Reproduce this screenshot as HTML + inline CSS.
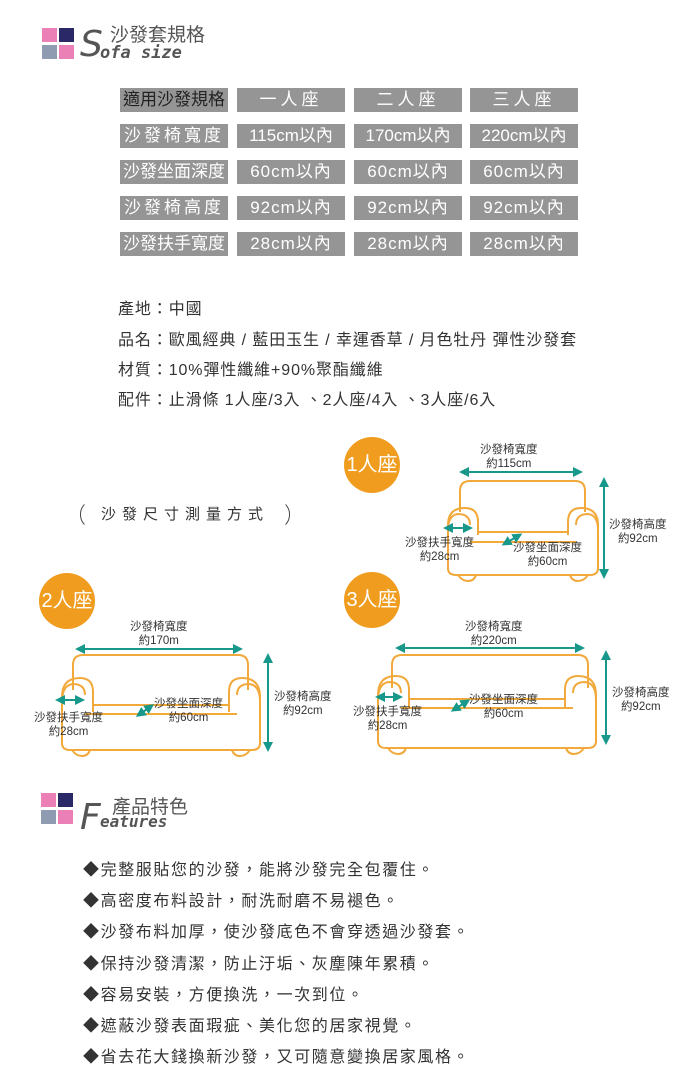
<!DOCTYPE html>
<html><head><meta charset="utf-8"><style>
body{margin:0;width:700px;height:1078px;background:#fff;position:relative;overflow:hidden;font-family:"Liberation Sans","Noto Sans CJK TC",sans-serif;color:#333}
.a{position:absolute;white-space:nowrap}
.sq{position:absolute;width:15px;height:14px}
.c{position:absolute;background:#959595;color:#fff;font-size:17px;text-align:center;line-height:24px;height:24px;letter-spacing:1px}
.h{color:#222;letter-spacing:0}
.t{font-size:16px;color:#333;letter-spacing:0.9px}
.f{font-size:16px;color:#333;letter-spacing:1.6px}
.circ{position:absolute;width:56px;height:56px;border-radius:50%;background:#f09c1e;color:#fff;font-size:20px;line-height:56px;text-align:center}
.lab{position:absolute;font-size:11.5px;color:#333;text-align:center;line-height:14px;white-space:nowrap}
</style></head><body>
<div class="sq" style="left:42px;top:28px;background:#ea80b5"></div>
<div class="sq" style="left:59px;top:28px;background:#2b2868"></div>
<div class="sq" style="left:42px;top:45px;background:#8e9bb0"></div>
<div class="sq" style="left:59px;top:45px;background:#ea80b5"></div>
<div class="a" style="left:80px;top:24px;font-size:36px;font-style:italic;color:#555;font-family:'DejaVu Sans',sans-serif">S</div>
<div class="a" style="left:110px;top:20px;font-size:19px;color:#555">沙發套規格</div>
<div class="a" style="left:100px;top:43px;font-size:17px;font-style:italic;font-weight:bold;color:#555;font-family:'DejaVu Sans Mono',monospace">ofa size</div>

<div class="c h" style="left:120px;top:88px;width:108px">適用沙發規格</div>
<div class="c" style="left:237px;top:88px;width:108px;letter-spacing:4px">一人座</div>
<div class="c" style="left:354px;top:88px;width:108px;letter-spacing:4px">二人座</div>
<div class="c" style="left:470px;top:88px;width:108px;letter-spacing:4px">三人座</div>

<div class="c" style="left:120px;top:124px;width:108px;letter-spacing:3px">沙發椅寬度</div>
<div class="c" style="left:237px;top:124px;width:108px;letter-spacing:0">115cm以內</div>
<div class="c" style="left:354px;top:124px;width:108px;letter-spacing:0">170cm以內</div>
<div class="c" style="left:470px;top:124px;width:108px;letter-spacing:0">220cm以內</div>

<div class="c" style="left:120px;top:160px;width:108px;letter-spacing:0">沙發坐面深度</div>
<div class="c" style="left:237px;top:160px;width:108px">60cm以內</div>
<div class="c" style="left:354px;top:160px;width:108px">60cm以內</div>
<div class="c" style="left:470px;top:160px;width:108px">60cm以內</div>

<div class="c" style="left:120px;top:196px;width:108px;letter-spacing:3px">沙發椅高度</div>
<div class="c" style="left:237px;top:196px;width:108px">92cm以內</div>
<div class="c" style="left:354px;top:196px;width:108px">92cm以內</div>
<div class="c" style="left:470px;top:196px;width:108px">92cm以內</div>

<div class="c" style="left:120px;top:232px;width:108px;letter-spacing:0">沙發扶手寬度</div>
<div class="c" style="left:237px;top:232px;width:108px">28cm以內</div>
<div class="c" style="left:354px;top:232px;width:108px">28cm以內</div>
<div class="c" style="left:470px;top:232px;width:108px">28cm以內</div>

<div class="a t" style="left:118px;top:295px">產地：中國</div>
<div class="a t" style="left:118px;top:326px">品名：歐風經典 / 藍田玉生 / 幸運香草 / 月色牡丹 彈性沙發套</div>
<div class="a t" style="left:118px;top:356px">材質：10%彈性纖維+90%聚酯纖維</div>
<div class="a t" style="left:118px;top:386px">配件：止滑條 1人座/3入 、2人座/4入 、3人座/6入</div>

<div class="a" style="left:80px;top:500px;width:208px;height:27px;border:1.5px solid #444;border-radius:14px;border-top-color:transparent;border-bottom-color:transparent;font-size:15px;line-height:27px;text-align:center;letter-spacing:6px;color:#333">沙發尺寸測量方式</div>

<div class="circ" style="left:344px;top:437px">1人座</div>
<div class="circ" style="left:39px;top:573px">2人座</div>
<div class="circ" style="left:344px;top:572px">3人座</div>

<svg width="700" height="1078" style="position:absolute;left:0;top:0" fill="none">
<defs><marker id="m" viewBox="0 0 6 6" refX="3" refY="3" markerWidth="5" markerHeight="5" orient="auto-start-reverse"><path d="M0,0L6,3L0,6z" fill="#17988a"/></marker></defs>
<g stroke="#f2a93b" stroke-width="2">
<path d="M460,512V491Q460,481 470,481H575Q585,481 585,491V512"/>
<path d="M448,570V525Q448,508 465,508Q478,508 478,522V535"/>
<path d="M448,530Q448,515 458,514Q470,514 470,525"/>
<path d="M598,570V525Q598,508 581,508Q568,508 568,522V535"/>
<path d="M598,530Q598,515 588,514Q576,514 576,525"/>
<path d="M478,532H568M470,542H576"/>
<path d="M448,568Q448,575 456,575H590Q598,575 598,568"/>
<path d="M458,575Q462,581 468,581Q474,581 476,575M570,575Q572,581 578,581Q584,581 588,575"/>
<path d="M73,690V665Q73,655 83,655H238Q248,655 248,665V690"/>
<path d="M62,745V697Q62,678 80,678Q93,678 93,692V712"/>
<path d="M62,702Q62,685 73,684Q85,684 85,695"/>
<path d="M260,745V697Q260,678 242,678Q229,678 229,692V712"/>
<path d="M260,702Q260,685 249,684Q237,684 237,695"/>
<path d="M93,705H229M85,714H237"/>
<path d="M62,743Q62,750 70,750H252Q260,750 260,743"/>
<path d="M72,750Q76,756 82,756Q88,756 90,750M232,750Q234,756 240,756Q246,756 250,750"/>
<path d="M392,688V665Q392,655 402,655H578Q588,655 588,665V688"/>
<path d="M378,743V695Q378,676 396,676Q409,676 409,690V708"/>
<path d="M378,700Q378,683 389,682Q401,682 401,693"/>
<path d="M596,743V695Q596,676 578,676Q565,676 565,690V708"/>
<path d="M596,700Q596,683 585,682Q573,682 573,693"/>
<path d="M409,699H565M401,708H573"/>
<path d="M378,741Q378,748 386,748H588Q596,748 596,741"/>
<path d="M388,748Q392,754 398,754Q404,754 406,748M566,748Q568,754 574,754Q580,754 584,748"/>
</g>
<g stroke="#17988a" stroke-width="2" marker-start="url(#m)" marker-end="url(#m)">
<path d="M464,472H578"/><path d="M604,482V574"/><path d="M448,528H468"/><path d="M506,543L518,536"/>
<path d="M80,649H238"/><path d="M268,658V747"/><path d="M60,700H80"/><path d="M140,714L150,707"/>
<path d="M400,648H580"/><path d="M606,655V740"/><path d="M380,697H398"/><path d="M455,709L466,702"/>
</g>
</svg>

<div class="lab" style="left:480px;top:443px">沙發椅寬度<br>約115cm</div>
<div class="lab" style="left:609px;top:518px">沙發椅高度<br>約92cm</div>
<div class="lab" style="left:405px;top:536px">沙發扶手寬度<br>約28cm</div>
<div class="lab" style="left:513px;top:541px">沙發坐面深度<br>約60cm</div>

<div class="lab" style="left:130px;top:620px">沙發椅寬度<br>約170m</div>
<div class="lab" style="left:274px;top:690px">沙發椅高度<br>約92cm</div>
<div class="lab" style="left:34px;top:711px">沙發扶手寬度<br>約28cm</div>
<div class="lab" style="left:154px;top:697px">沙發坐面深度<br>約60cm</div>

<div class="lab" style="left:465px;top:620px">沙發椅寬度<br>約220cm</div>
<div class="lab" style="left:612px;top:686px">沙發椅高度<br>約92cm</div>
<div class="lab" style="left:353px;top:705px">沙發扶手寬度<br>約28cm</div>
<div class="lab" style="left:469px;top:693px">沙發坐面深度<br>約60cm</div>

<div class="sq" style="left:41px;top:793px;background:#ea80b5"></div>
<div class="sq" style="left:58px;top:793px;background:#2b2868"></div>
<div class="sq" style="left:41px;top:810px;background:#8e9bb0"></div>
<div class="sq" style="left:58px;top:810px;background:#ea80b5"></div>
<div class="a" style="left:80px;top:797px;font-size:36px;font-style:italic;color:#555;font-family:'DejaVu Sans',sans-serif">F</div>
<div class="a" style="left:112px;top:792px;font-size:19px;color:#555">產品特色</div>
<div class="a" style="left:100px;top:812px;font-size:16px;font-style:italic;font-weight:bold;color:#555;font-family:'DejaVu Sans Mono',monospace">eatures</div>

<div class="a f" style="left:83px;top:856px">◆完整服貼您的沙發，能將沙發完全包覆住。</div>
<div class="a f" style="left:83px;top:887px">◆高密度布料設計，耐洗耐磨不易褪色。</div>
<div class="a f" style="left:83px;top:918px">◆沙發布料加厚，使沙發底色不會穿透過沙發套。</div>
<div class="a f" style="left:83px;top:950px">◆保持沙發清潔，防止汙垢、灰塵陳年累積。</div>
<div class="a f" style="left:83px;top:981px">◆容易安裝，方便換洗，一次到位。</div>
<div class="a f" style="left:83px;top:1012px">◆遮蔽沙發表面瑕疵、美化您的居家視覺。</div>
<div class="a f" style="left:83px;top:1043px">◆省去花大錢換新沙發，又可隨意變換居家風格。</div>
</body></html>
